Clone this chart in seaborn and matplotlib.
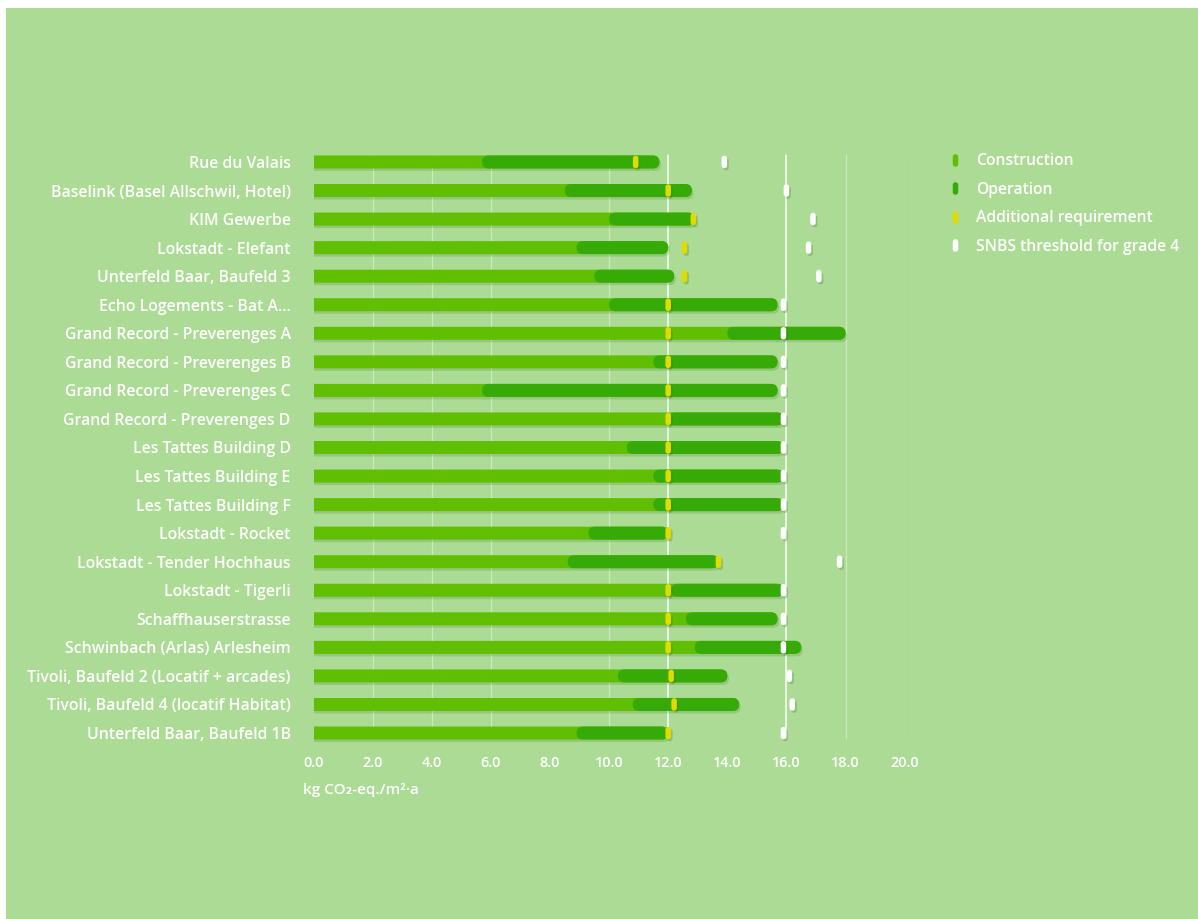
import numpy as np
import pandas as pd
import matplotlib
matplotlib.use("Agg")
import matplotlib.pyplot as plt
import seaborn as sns
from matplotlib.path import Path
from matplotlib.patches import FancyBboxPatch, Rectangle
import matplotlib.patheffects as pe
from matplotlib.lines import Line2D
from matplotlib.ticker import FormatStrFormatter

# ---------------- data ----------------
projects = [
    "Rue du Valais",
    "Baselink (Basel Allschwil, Hotel)",
    "KIM Gewerbe",
    "Lokstadt - Elefant",
    "Unterfeld Baar, Baufeld 3",
    "Echo Logements - Bat A...",
    "Grand Record - Preverenges A",
    "Grand Record - Preverenges B",
    "Grand Record - Preverenges C",
    "Grand Record - Preverenges D",
    "Les Tattes Building D",
    "Les Tattes Building E",
    "Les Tattes Building F",
    "Lokstadt - Rocket",
    "Lokstadt - Tender Hochhaus",
    "Lokstadt - Tigerli",
    "Schaffhauserstrasse",
    "Schwinbach (Arlas) Arlesheim",
    "Tivoli, Baufeld 2 (Locatif + arcades)",
    "Tivoli, Baufeld 4 (locatif Habitat)",
    "Unterfeld Baar, Baufeld 1B",
]
construction = [5.7, 8.5, 10.0, 8.9, 9.5, 10.0, 14.0, 11.5, 5.7, 12.0, 10.6,
                11.5, 11.5, 9.3, 8.6, 12.1, 12.6, 12.9, 10.3, 10.8, 8.9]
operation = [6.0, 4.3, 2.9, 3.1, 2.7, 5.7, 4.0, 4.2, 10.0, 3.9, 5.3,
             4.4, 4.4, 2.7, 5.1, 3.8, 3.1, 3.6, 3.7, 3.6, 3.1]
additional = [10.9, 12.0, 12.85, 12.55, 12.55, 12.0, 12.0, 12.0, 12.0, 12.0, 12.0,
              12.0, 12.0, 12.0, 13.7, 12.0, 12.0, 12.0, 12.1, 12.2, 12.0]
snbs_threshold = [13.9, 16.0, 16.9, 16.75, 17.1, 15.9, 15.9, 15.9, 15.9, 15.9, 15.9,
                  15.9, 15.9, 15.9, 17.8, 15.9, 15.9, 15.9, 16.1, 16.2, 15.9]
x_ticks = [0, 2, 4, 6, 8, 10, 12, 14, 16, 18, 20]
grid_faint = [2, 4, 6, 10, 18, 20]
grid_bright = [12, 16]
legend_labels = ["Construction", "Operation", "Additional requirement",
                 "SNBS threshold for grade 4"]
x_label = "kg CO\u2082-eq./m\u00b2\u00b7a"

# ---------------- style ----------------
BG = "#acdb95"
LIGHT = "#5fbf00"
DARK = "#36aa06"
YELLOW = "#e0dc00"
WHITE = "#ffffff"
BAR_H = 0.455
FW = "semibold"

sns.set_style("white")
plt.rcParams["font.family"] = ["Open Sans", "DejaVu Sans"]

df = pd.DataFrame({
    "project": projects,
    "construction": construction,
    "operation": operation,
    "additional": additional,
    "snbs": snbs_threshold,
})
df["total"] = df["construction"] + df["operation"]

W, H = 1198, 919
fig = plt.figure(figsize=(W / 100, H / 100), dpi=100)
fig.patch.set_facecolor("white")
fig.add_artist(Rectangle((6 / W, 0), 1, 1 - 8 / H, transform=fig.transFigure,
                         facecolor=BG, edgecolor="none", zorder=-10))

ax_l, ax_r, ax_t, ax_b = 313.6, 904.6, 147.7, 747.3
ax = fig.add_axes([ax_l / W, 1 - ax_b / H, (ax_r - ax_l) / W, (ax_b - ax_t) / H])
ax.set_facecolor("none")

n = len(df)
sns.barplot(data=df, x="total", y="project", orient="h", color=LIGHT,
            saturation=1, width=BAR_H, errorbar=None, ax=ax)
sns.barplot(data=df, x="operation", y="project", orient="h", color=DARK,
            saturation=1, width=BAR_H, errorbar=None, ax=ax)

ax.set_xlim(x_ticks[0], x_ticks[-1])
ax.set_ylim(n - 0.5, -0.5)

# rounded bars
px_x = (ax_r - ax_l) / (x_ticks[-1] - x_ticks[0])
px_y = (ax_b - ax_t) / n
r = BAR_H / 2 * px_y / px_x
asp = px_x / px_y
shadow = [pe.SimplePatchShadow(offset=(1.2, -1.8), shadow_rgbFace="#2e6a10", alpha=0.18),
          pe.Normal()]

rects = list(ax.patches)
light_rects, dark_rects = rects[:n], rects[n:]
for p in rects:
    p.remove()
for i, p in enumerate(light_rects):
    fb = FancyBboxPatch((p.get_x() - r, p.get_y()), p.get_width() + r, p.get_height(),
                        boxstyle=f"round,pad=0,rounding_size={r}", mutation_aspect=asp,
                        facecolor=LIGHT, edgecolor="none", zorder=2)
    fb.set_path_effects(shadow)
    ax.add_patch(fb)
for i, p in enumerate(dark_rects):
    fb = FancyBboxPatch((df["construction"][i], p.get_y()), p.get_width(), p.get_height(),
                        boxstyle=f"round,pad=0,rounding_size={r}", mutation_aspect=asp,
                        facecolor=DARK, edgecolor="none", zorder=3)
    ax.add_patch(fb)

# pill marker
rr = 0.22
cc = 0.5 - rr
t = np.linspace(0, np.pi, 16)
top = np.c_[rr * np.cos(t), cc + rr * np.sin(t)]
bot = np.c_[rr * np.cos(t + np.pi), -cc + rr * np.sin(t + np.pi)]
verts = np.vstack([top, bot, top[:1]])
codes = [Path.MOVETO] + [Path.LINETO] * (len(verts) - 2) + [Path.CLOSEPOLY]
PILL = Path(verts, codes)
MS = 9.0

mshadow = [pe.SimplePatchShadow(offset=(1.2, -1.5), shadow_rgbFace="#2e6a10", alpha=0.25),
           pe.Normal()]
sns.stripplot(data=df, x="additional", y="project", orient="h", jitter=False,
              marker=PILL, size=MS, color=YELLOW, linewidth=0, zorder=5, ax=ax)
sns.stripplot(data=df, x="snbs", y="project", orient="h", jitter=False,
              marker=PILL, size=MS, color=WHITE, linewidth=0, zorder=5, ax=ax)
for coll in ax.collections:
    coll.set_path_effects(mshadow)

ax.set_xlim(x_ticks[0], x_ticks[-1])
ax.set_ylim(n - 0.5, -0.5)

# grid
for v in grid_faint:
    ax.axvline(v, ymin=0.015, ymax=0.988, color="white", alpha=0.4, lw=0.9, zorder=0)
for v in grid_bright:
    ax.axvline(v, ymin=0.015, ymax=0.988, color="white", alpha=0.95, lw=1.1, zorder=1)

ax.set_xticks(x_ticks)
ax.xaxis.set_major_formatter(FormatStrFormatter("%.1f"))
ax.tick_params(axis="x", length=0, pad=6, labelsize=10.4, colors="white")
ax.tick_params(axis="y", length=0, pad=16.5, labelsize=11.4, colors="white")
for lab in ax.get_xticklabels() + ax.get_yticklabels():
    lab.set_fontweight(FW)
ax.set_xlabel("")
ax.set_ylabel("")
ax.grid(False)
sns.despine(ax=ax, left=True, bottom=True)

fig.text(303 / W, 1 - 790 / H, x_label, ha="left", va="center", color="white",
         fontsize=11, fontweight=FW)

handles = [Line2D([], [], marker=PILL, markersize=MS, color=c, linestyle="none",
                  markeredgewidth=0)
           for c in [LIGHT, DARK, YELLOW, WHITE]]
leg = fig.legend(handles, legend_labels, loc="upper left",
                 bbox_to_anchor=(947.2 / W, 1 - 153 / H), frameon=False,
                 labelcolor="white", handlelength=1.0,
                 handletextpad=0.83, labelspacing=0.8, borderpad=0, borderaxespad=0,
                 prop={"weight": FW, "size": 11.3})

fig.savefig("out.png", dpi=100, facecolor=fig.get_facecolor())
